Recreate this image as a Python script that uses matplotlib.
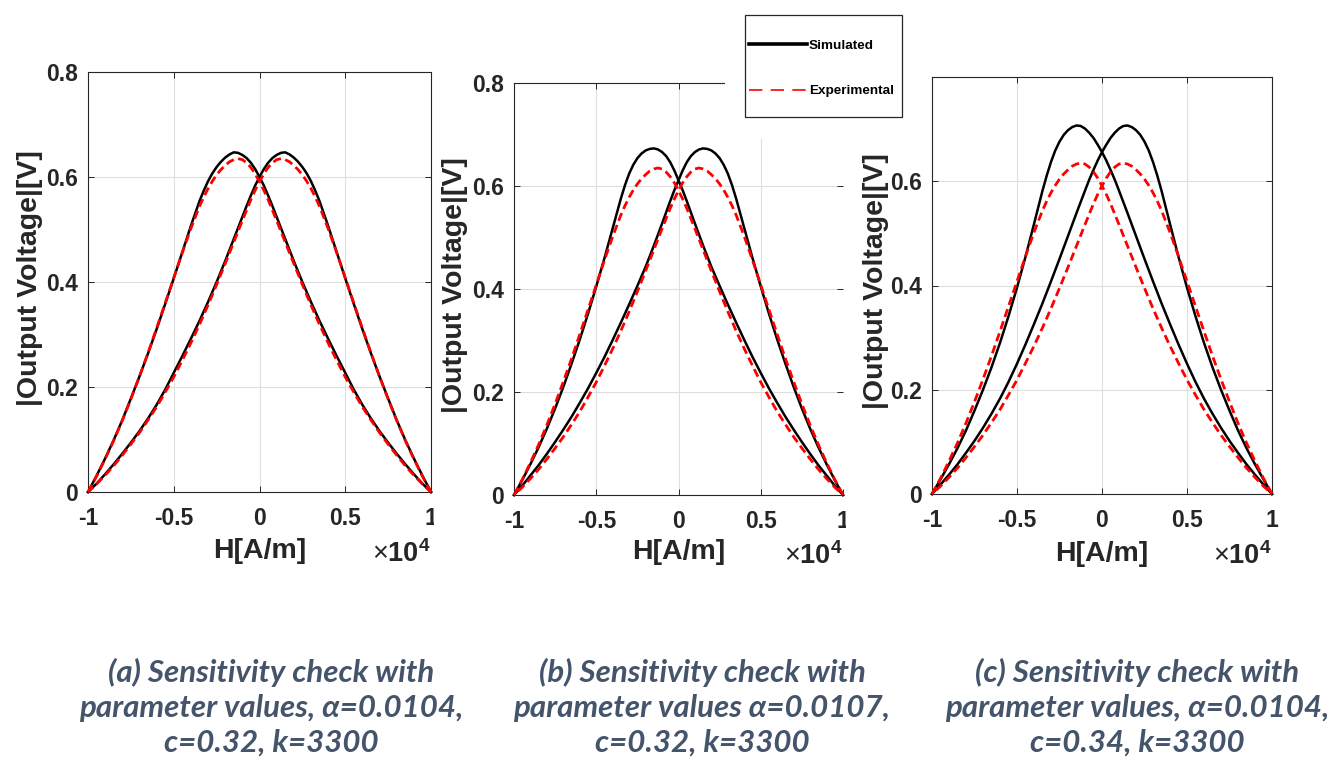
import matplotlib
matplotlib.use("Agg")
import matplotlib.pyplot as plt
import numpy as np
from matplotlib.patches import Rectangle
from matplotlib.lines import Line2D
from matplotlib.ticker import FuncFormatter, FixedLocator
from matplotlib.font_manager import FontProperties

plt.rcParams["axes.unicode_minus"] = False
plt.rcParams["mathtext.fontset"] = "custom"
plt.rcParams["mathtext.rm"] = "Liberation Sans"
plt.rcParams["mathtext.bf"] = "Liberation Sans:bold"

# ---------------------------------------------------------------- data
# Applied field H [A/m] for the forward sweep; the return sweep is its mirror.
H_FIELD = np.array([
    -10000, -9500, -9000, -8500, -8000, -7500, -7000, -6500, -6000, -5500,
    -5000, -4500, -4000, -3500, -3250, -3000, -2750, -2500, -2250, -2000,
    -1750, -1500, -1250, -1000, -750, -500, -250, 0, 250, 500, 750, 1000,
    1500, 2000, 2500, 3000, 3500, 4000, 4500, 5000, 5500, 6000, 6500, 7000,
    7500, 8000, 8500, 9000, 9500, 10000])

# |Output voltage| [V], simulated, (a) alpha=0.0104 c=0.32 k=3300
SIM_A = [0.000, 0.031, 0.064, 0.099, 0.137, 0.178, 0.220, 0.264, 0.310, 0.358,
         0.407, 0.457, 0.507, 0.554, 0.574, 0.592, 0.607, 0.619, 0.629, 0.637,
         0.643, 0.647, 0.646, 0.642, 0.636, 0.627, 0.615, 0.600, 0.584, 0.565,
         0.545, 0.524, 0.482, 0.440, 0.400, 0.362, 0.326, 0.292, 0.259, 0.227,
         0.195, 0.166, 0.140, 0.116, 0.094, 0.073, 0.053, 0.034, 0.016, 0.000]

# simulated, (b) alpha=0.0107 c=0.32 k=3300
SIM_B = [0.000, 0.029, 0.060, 0.093, 0.129, 0.168, 0.210, 0.255, 0.302, 0.352,
         0.405, 0.460, 0.518, 0.576, 0.602, 0.624, 0.641, 0.654, 0.663, 0.669,
         0.672, 0.673, 0.671, 0.666, 0.658, 0.646, 0.630, 0.611, 0.592, 0.571,
         0.549, 0.527, 0.484, 0.443, 0.406, 0.370, 0.335, 0.301, 0.268, 0.237,
         0.207, 0.179, 0.152, 0.127, 0.103, 0.080, 0.058, 0.038, 0.018, 0.000]

# simulated, (c) alpha=0.0104 c=0.34 k=3300
SIM_C = [0.000, 0.028, 0.057, 0.088, 0.122, 0.160, 0.200, 0.243, 0.290, 0.341,
         0.396, 0.455, 0.518, 0.582, 0.611, 0.637, 0.659, 0.676, 0.689, 0.698,
         0.704, 0.707, 0.706, 0.701, 0.693, 0.683, 0.670, 0.656, 0.640, 0.622,
         0.603, 0.582, 0.539, 0.495, 0.451, 0.408, 0.366, 0.326, 0.287, 0.250,
         0.215, 0.183, 0.154, 0.127, 0.102, 0.079, 0.057, 0.037, 0.018, 0.000]

# measured response (same in every panel)
EXPERIMENTAL = [0.000, 0.030, 0.063, 0.098, 0.136, 0.177, 0.220, 0.265, 0.312, 0.360,
                0.408, 0.456, 0.502, 0.544, 0.562, 0.578, 0.592, 0.604, 0.614, 0.622,
                0.629, 0.633, 0.635, 0.633, 0.627, 0.618, 0.606, 0.591, 0.575, 0.557,
                0.537, 0.517, 0.476, 0.435, 0.395, 0.356, 0.319, 0.284, 0.251, 0.219,
                0.190, 0.162, 0.137, 0.113, 0.091, 0.070, 0.050, 0.032, 0.015, 0.000]

X_TICKS = [-10000, -5000, 0, 5000, 10000]
Y_TICKS = [0, 0.2, 0.4, 0.6, 0.8]

CAPTIONS = [
    ["(a) Sensitivity check with", "parameter values, \u03b1=0.0104,", "c=0.32, k=3300"],
    ["(b) Sensitivity check with", "parameter values \u03b1=0.0107,", "c=0.32, k=3300"],
    ["(c) Sensitivity check with", "parameter values, \u03b1=0.0104,", "c=0.34, k=3300"],
]

# ---------------------------------------------------------------- layout
W, H = 1329, 763
fig = plt.figure(figsize=(W / 100, H / 100), dpi=100)
fig.patch.set_facecolor("white")


def fig_box(x0, y0, x1, y1):
    """Pixel box (top-left origin) -> figure fraction rectangle."""
    return [x0 / W, 1 - y1 / H, (x1 - x0) / W, (y1 - y0) / H]


INK = "#262626"
TICK_FONT = dict(family="Liberation Sans", weight="bold", size=16.5)
LABEL_FONT = dict(family="Liberation Sans", weight="bold", size=20.5)

panels = [
    dict(box=(88, 72, 431, 492), sim=SIM_A, ylab_x=-0.168, xlab_y=-0.140, right=True),
    dict(box=(514, 83, 843, 495), sim=SIM_B, ylab_x=-0.178, xlab_y=-0.138, right=False),
    dict(box=(932, 77, 1272, 494), sim=SIM_C, ylab_x=-0.165, xlab_y=-0.144, right=True),
]

dash = (0, (3.0, 1.6))
for p in panels:
    ax = fig.add_axes(fig_box(*p["box"]))
    ax.plot(H_FIELD, p["sim"], color="black", lw=1.8, clip_on=False, zorder=3)
    ax.plot(-H_FIELD, p["sim"], color="black", lw=1.8, clip_on=False, zorder=3)
    ax.plot(H_FIELD, EXPERIMENTAL, color="#ff0000", lw=2.0, ls=dash, clip_on=False, zorder=4)
    ax.plot(-H_FIELD, EXPERIMENTAL, color="#ff0000", lw=2.0, ls=dash, clip_on=False, zorder=4)

    ax.set_xlim(-10000, 10000)
    ax.set_ylim(0, 0.8)
    ax.xaxis.set_major_locator(FixedLocator(X_TICKS))
    ax.yaxis.set_major_locator(FixedLocator(Y_TICKS))
    ax.xaxis.set_major_formatter(FuncFormatter(lambda v, _: f"{v / 1e4:g}"))
    ax.yaxis.set_major_formatter(FuncFormatter(lambda v, _: f"{v:g}"))
    ax.grid(True, color="#dedede", lw=0.8)
    ax.set_axisbelow(True)
    ax.tick_params(direction="in", length=4, width=0.7, colors=INK,
                   top=True, right=True)
    ax.tick_params(axis="x", pad=11)
    ax.tick_params(axis="y", pad=7)
    for lab in ax.get_xticklabels() + ax.get_yticklabels():
        lab.set_fontproperties(FontProperties(**TICK_FONT))
        lab.set_color(INK)
    for s in ax.spines.values():
        s.set_color(INK)
        s.set_linewidth(0.8)
    if not p["right"]:
        ax.spines["right"].set_visible(False)

    ax.set_ylabel("|Output Voltage|[V]", color=INK, va="center", **LABEL_FONT)
    ax.yaxis.set_label_coords(p["ylab_x"], 0.51)
    ax.set_xlabel("H[A/m]", color=INK, va="center", **LABEL_FONT)
    ax.xaxis.set_label_coords(0.5, p["xlab_y"])
    ax.text(1.0, -0.167, r"$\times\mathbf{10^{4}}$", transform=ax.transAxes,
            ha="right", va="baseline", fontsize=19.5, color=INK)

# white cover behind the legend and the trimmed edges of the panels
for box in [(725, 0, 931, 139), (434, 503, 446, 535), (846, 503, 860, 535)]:
    r = fig_box(*box)
    fig.patches.append(Rectangle(r[:2], r[2], r[3], transform=fig.transFigure,
                                 facecolor="white", edgecolor="none", zorder=10))

# legend
lx0, ly0, lx1, ly1 = 745, 15, 902, 117
r = fig_box(lx0, ly0, lx1, ly1)
fig.patches.append(Rectangle(r[:2], r[2], r[3], transform=fig.transFigure,
                             facecolor="white", edgecolor=INK, lw=0.9, zorder=11))
handles = [Line2D([], [], color="black", lw=2.6),
           Line2D([], [], color="#ff0000", lw=1.2, ls=(0, (8, 5)))]
leg = fig.legend(handles, ["Simulated", "Experimental"], loc="center left",
                 bbox_to_anchor=(749 / W, 1 - 68.5 / H), frameon=False,
                 prop=dict(family="Liberation Sans", weight="bold", size=9.7),
                 handlelength=4.3, handletextpad=0.15, labelspacing=2.44,
                 borderpad=0, borderaxespad=0)
leg.set_zorder(12)

# captions
CAP_COLOR = "#44546a"
cap_x = [271, 702, 1137]
cap_baselines = [682, 717, 752]
for cx, lines in zip(cap_x, CAPTIONS):
    for by, line in zip(cap_baselines, lines):
        fig.text(cx / W, 1 - by / H, line, ha="center", va="baseline",
                 family=["Lato", "Open Sans", "DejaVu Sans"], weight="bold",
                 style="italic", size=22.5, color=CAP_COLOR)

fig.savefig("out.png", dpi=100, facecolor="white")
